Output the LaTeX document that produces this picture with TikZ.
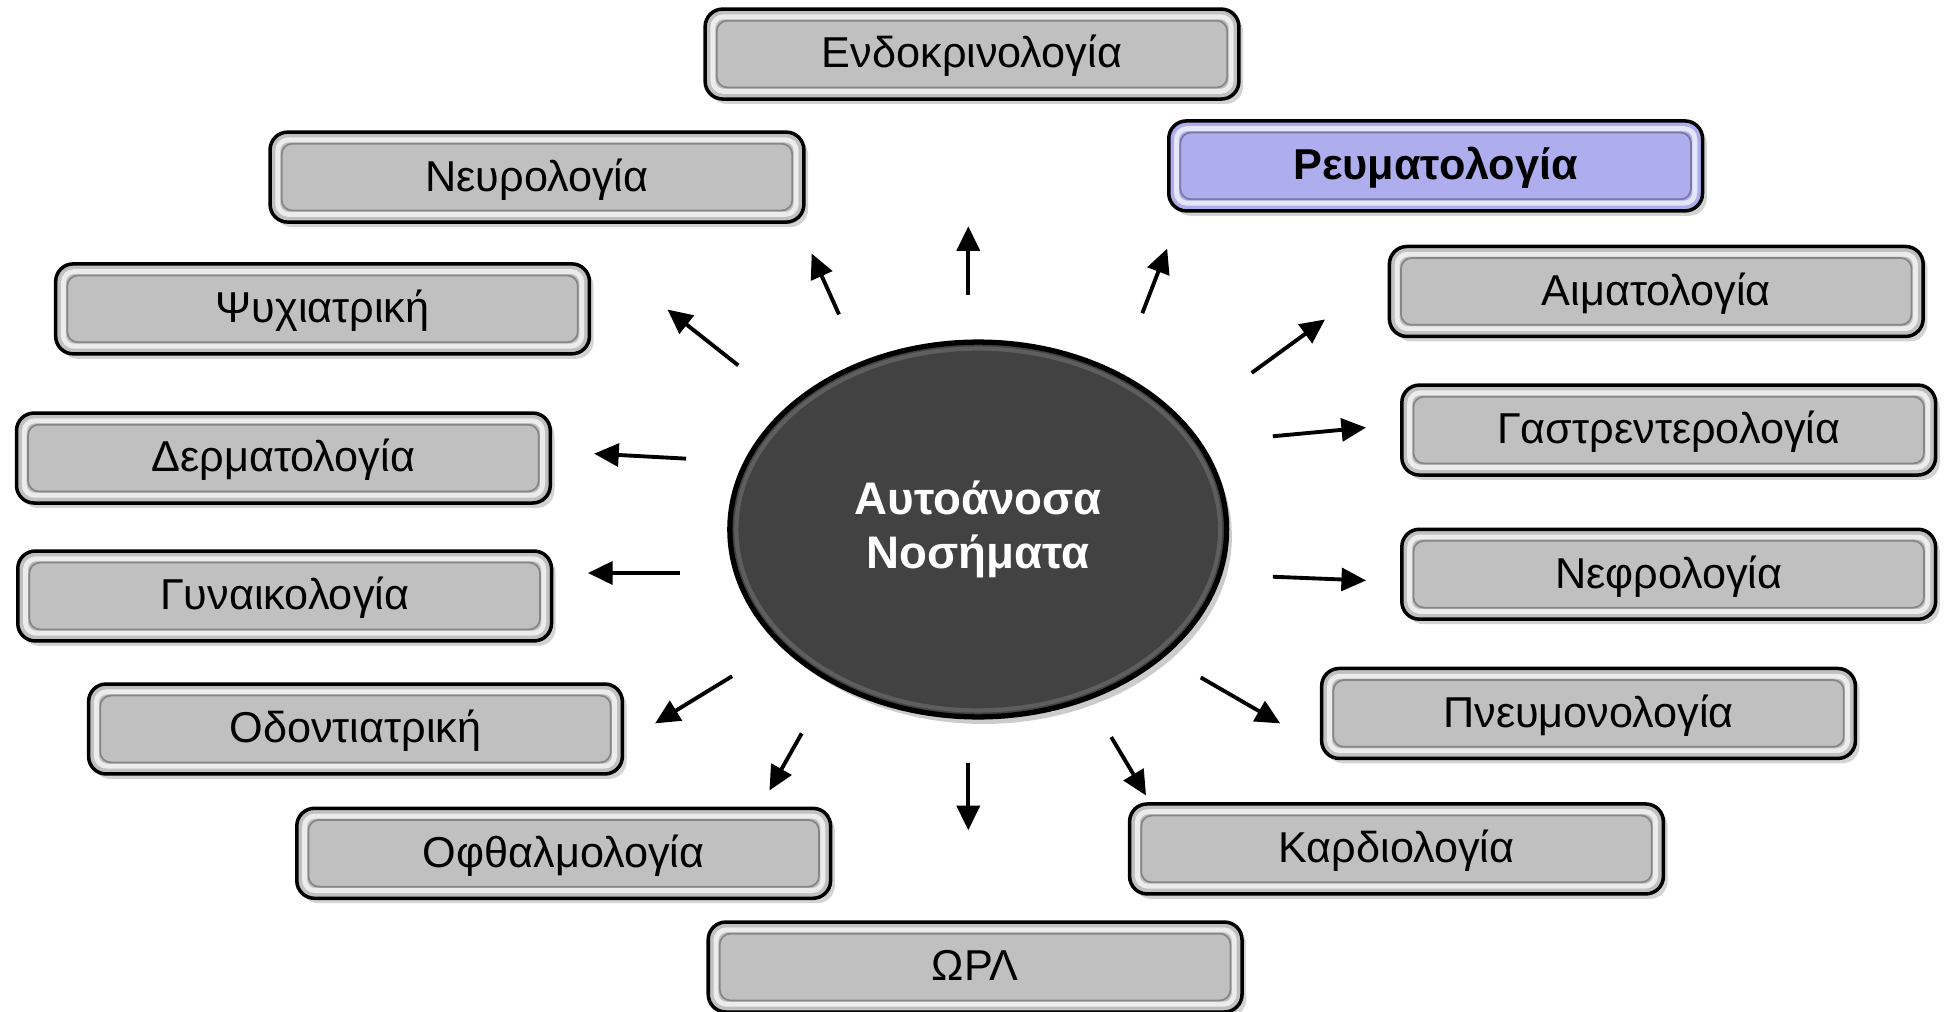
\documentclass[tikz,border=0pt]{standalone}
\usepackage{fontspec}
\setmainfont{Liberation Sans}
\usepackage{xcolor}
\usepackage{tikz}
\usetikzlibrary{shapes.geometric, arrows.meta, positioning, shadows}
\definecolor{boxgray}{RGB}{192,192,192}
\definecolor{rheumblue}{RGB}{174,174,238}
\definecolor{coregray}{RGB}{66,66,66}
\tikzset{
    dept/.style={rectangle, rounded corners=5pt, minimum width=5.34cm, minimum height=0.9cm, text centered, text height=1.6ex, text depth=0.1ex, draw=black, line width=1pt, fill=boxgray, font=\fontsize{12.3}{15}\selectfont, drop shadow={shadow xshift=1.2pt, shadow yshift=-1.4pt, opacity=0.35},
        path picture={
            \draw[white, draw opacity=0.7, line width=1.4pt, rounded corners=3pt] ([shift={(2.2pt,-2.2pt)}]path picture bounding box.north west) rectangle ([shift={(-2.2pt,2.2pt)}]path picture bounding box.south east);
            \draw[black, draw opacity=0.3, line width=0.5pt, rounded corners=3pt] ([shift={(3.3pt,-3.3pt)}]path picture bounding box.north west) rectangle ([shift={(-3.3pt,3.3pt)}]path picture bounding box.south east);
        }},
    core/.style={ellipse, minimum width=4.97cm, minimum height=3.75cm, draw=black, line width=1.5pt, fill=coregray, text=white, align=center, font=\bfseries\fontsize{13}{15.6}\selectfont, drop shadow={shadow xshift=1.5pt, shadow yshift=-2pt, opacity=0.4},
        path picture={
            \draw[white, draw opacity=0.15, line width=1.2pt] (path picture bounding box.center) ellipse (2.42cm and 1.81cm);
        }},
    arrow/.style={line width=1.1pt, -{Triangle[length=7pt, width=6.5pt]}}
}
\begin{document}
\begin{tikzpicture}[x=0.01243cm, y=-0.01243cm]
    \useasboundingbox (0,0) rectangle (1568,814);

    % centre
    \node (core) [core] at (787,426) {Αυτοάνοσα\\Νοσήματα};

    % specialties
    \node (endo) [dept] at (782,43.5) {Ενδοκρινολογία};
    \node (neuro) [dept] at (432,142.5) {Νευρολογία};
    \node (rheum) [dept, fill=rheumblue, font=\bfseries\fontsize{12.3}{15}\selectfont] at (1155,133.5) {Ρευματολογία};
    \node (psych) [dept] at (259.5,248.5) {Ψυχιατρική};
    \node (haem) [dept] at (1332.5,234.5) {Αιματολογία};
    \node (derm) [dept] at (228,368.5) {Δερματολογία};
    \node (gastro) [dept] at (1342.5,346) {Γαστρεντερολογία};
    \node (gyn) [dept] at (229,479.5) {Γυναικολογία};
    \node (neph) [dept] at (1342.5,462) {Νεφρολογία};
    \node (odont) [dept] at (286,586.5) {Οδοντιατρική};
    \node (pneum) [dept] at (1278,574) {Πνευμονολογία};
    \node (ophth) [dept] at (453.5,686.5) {Οφθαλμολογία};
    \node (cardio) [dept] at (1123.5,683) {Καρδιολογία};
    \node (orl) [dept] at (784.5,778) {ΩΡΛ};

    % arrow ends
    \coordinate (endo-t) at (779,237);   \coordinate (endo-h) at (779,182);
    \coordinate (neuro-t) at (675,253);  \coordinate (neuro-h) at (653,204);
    \coordinate (rheum-t) at (919,252);  \coordinate (rheum-h) at (939,200);
    \coordinate (psych-t) at (594,294);  \coordinate (psych-h) at (537,249);
    \coordinate (haem-t) at (1007,300);  \coordinate (haem-h) at (1066,257);
    \coordinate (derm-t) at (552,369);   \coordinate (derm-h) at (478,365);
    \coordinate (gastro-t) at (1024,351); \coordinate (gastro-h) at (1099,344);
    \coordinate (gyn-t) at (547,461);    \coordinate (gyn-h) at (473,461);
    \coordinate (neph-t) at (1024,464);  \coordinate (neph-h) at (1099,467);
    \coordinate (odont-t) at (589,544);  \coordinate (odont-h) at (527,582);
    \coordinate (pneum-t) at (966,545);  \coordinate (pneum-h) at (1030,582);
    \coordinate (ophth-t) at (645,590);  \coordinate (ophth-h) at (619,636);
    \coordinate (cardio-t) at (894,593); \coordinate (cardio-h) at (922,640);
    \coordinate (orl-t) at (779,614);    \coordinate (orl-h) at (779,668);

    \draw [arrow] (endo-t) -- (endo-h);
    \draw [arrow] (neuro-t) -- (neuro-h);
    \draw [arrow] (rheum-t) -- (rheum-h);
    \draw [arrow] (psych-t) -- (psych-h);
    \draw [arrow] (haem-t) -- (haem-h);
    \draw [arrow] (derm-t) -- (derm-h);
    \draw [arrow] (gastro-t) -- (gastro-h);
    \draw [arrow] (gyn-t) -- (gyn-h);
    \draw [arrow] (neph-t) -- (neph-h);
    \draw [arrow] (odont-t) -- (odont-h);
    \draw [arrow] (pneum-t) -- (pneum-h);
    \draw [arrow] (ophth-t) -- (ophth-h);
    \draw [arrow] (cardio-t) -- (cardio-h);
    \draw [arrow] (orl-t) -- (orl-h);
\end{tikzpicture}
\end{document}
